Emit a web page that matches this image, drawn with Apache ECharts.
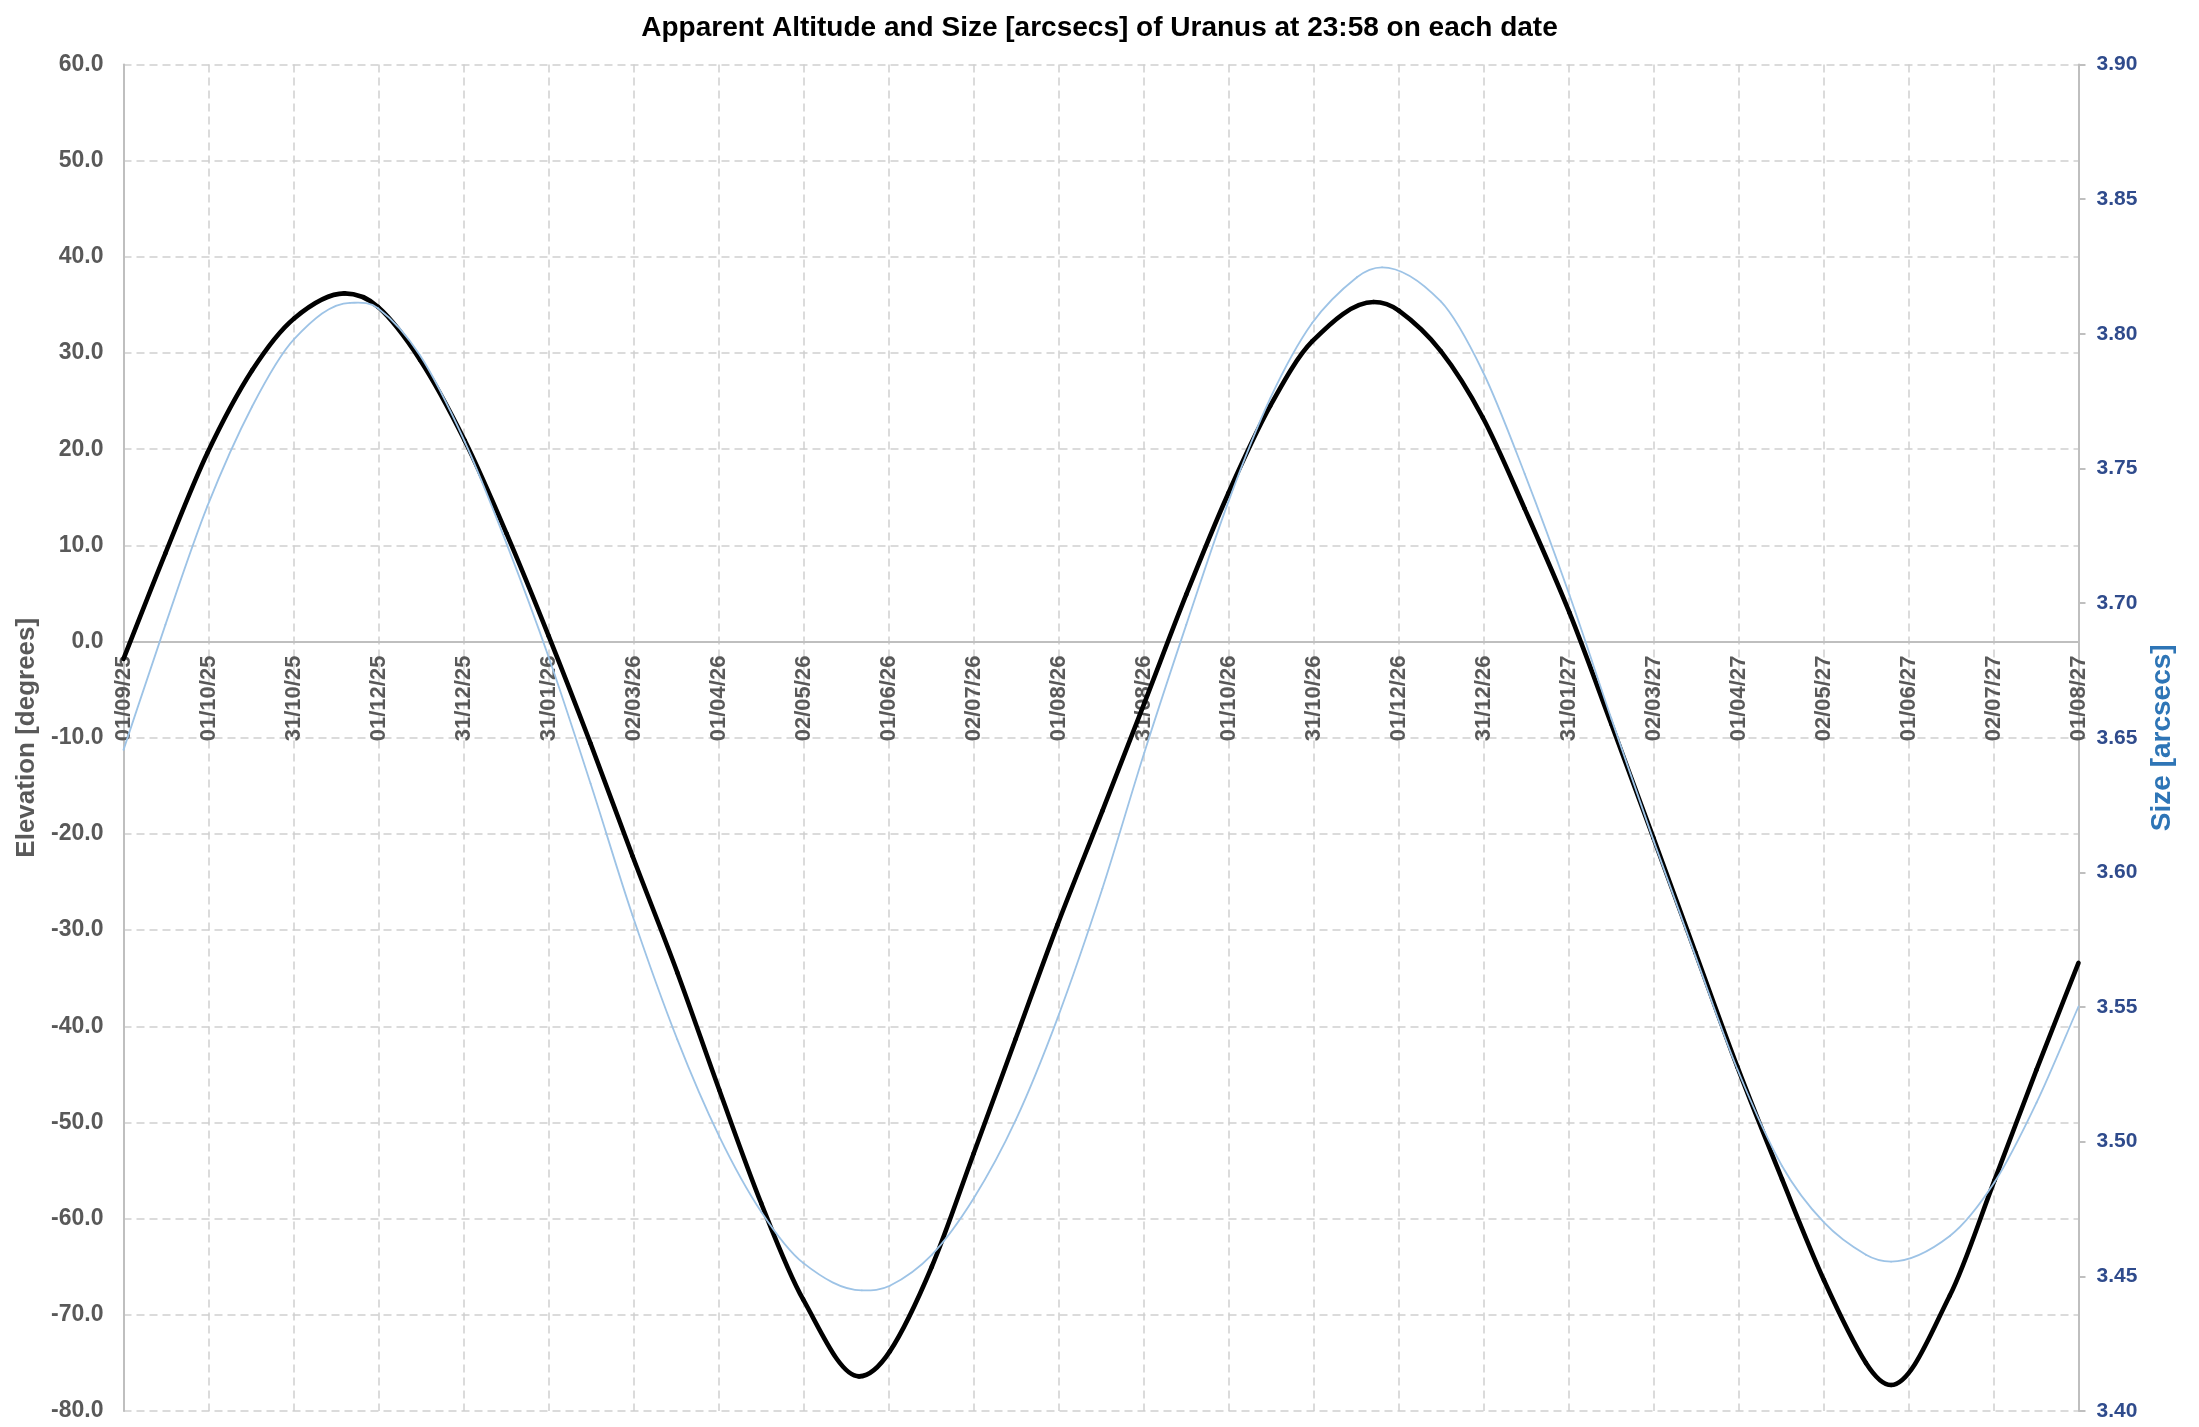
<!DOCTYPE html>
<html>
<head>
<meta charset="utf-8">
<script src="https://cdn.jsdelivr.net/npm/echarts@6/dist/echarts.min.js"></script>
<style>html,body{margin:0;padding:0;background:#fff;}#c{width:2199px;height:1427px;}</style>
</head>
<body>
<div id="c"></div>
<script>
// Days since 01/09/25 at which the altitude was read
const altDays = [0,15,30,46,61,79,91,106,122,137,152,167,182,198,213,228,243,263,274,289,304,319,334,350,365,380,395,410,425,447,456,471,486,501,517,532,547,562,577,593,608,623,632,653,669,684,699];
// Elevation [degrees]
const altitude = [-1.8,9.2,19.6,28.2,33.6,36.2,34.8,29.3,20.9,11.2,0.6,-10.6,-22.3,-34.4,-46.6,-58.4,-68.4,-76.4,-73.8,-65.0,-53.2,-41.3,-29.4,-17.6,-6.4,4.9,15.4,24.5,31.2,35.3,34.4,30.2,23.3,13.8,3.0,-8.6,-20.4,-32.3,-44.2,-55.9,-66.4,-75.0,-77.3,-68.0,-56.0,-44.5,-33.4];
// Days since 01/09/25 at which the size was read
const sizeDays = [0,15,30,46,61,81,91,106,122,137,152,167,182,198,213,228,243,264,274,289,304,319,334,350,365,380,395,410,425,441,450,471,486,501,517,532,547,562,577,593,608,623,632,653,669,684,699];
// Size [arcsecs]
const size = [3.6455,3.692,3.736,3.773,3.798,3.8115,3.8095,3.792,3.760,3.722,3.680,3.633,3.584,3.538,3.502,3.474,3.455,3.4448,3.4465,3.458,3.479,3.508,3.546,3.594,3.6445,3.692,3.7375,3.776,3.804,3.821,3.8247,3.812,3.786,3.748,3.703,3.657,3.612,3.569,3.527,3.491,3.470,3.458,3.4555,3.465,3.485,3.5145,3.5502];
const tickLabels = ['01/09/25','01/10/25','31/10/25','01/12/25','31/12/25','31/01/26','02/03/26','01/04/26','02/05/26','01/06/26','02/07/26','01/08/26','31/08/26','01/10/26','31/10/26','01/12/26','31/12/26','31/01/27','02/03/27','01/04/27','02/05/27','01/06/27','02/07/27','01/08/27'];
const totalDays = 699;
const step = totalDays / (tickLabels.length - 1);

const FF = "'Liberation Sans', Arial, sans-serif";
const GRID_TOP = 64.5, GRID_BOTTOM = 16, H = 1427;
const plotH = H - GRID_TOP - GRID_BOTTOM;
const yMin = -80, yMax = 60;
const zeroOffset = -plotH * (0 - yMin) / (yMax - yMin);

// Smooth line drawn as a cubic Hermite spline through the data points (mapped with api.coord)
function splineSeries(name, xs, ys, yAxisIndex, color, width, z) {
  return {
    name: name, type: 'custom', yAxisIndex: yAxisIndex, z: z, silent: true,
    data: xs.map((x, i) => [x, ys[i]]),
    encode: { x: 0, y: 1 },
    renderItem: function (params, api) {
      if (params.dataIndex !== 0) return null;
      const p = xs.map((x, i) => api.coord([x, ys[i]]));
      const n = p.length, m = [];
      for (let i = 0; i < n; i++) {
        if (i > 0 && i < n - 1 && (p[i][1] - p[i - 1][1]) * (p[i + 1][1] - p[i][1]) <= 0) {
          m.push(0); // local extremum: flat tangent
          continue;
        }
        const a = p[Math.max(0, i - 1)], b = p[Math.min(n - 1, i + 1)];
        m.push((b[1] - a[1]) / (b[0] - a[0]));
      }
      const children = [];
      for (let i = 0; i < n - 1; i++) {
        const dx = (p[i + 1][0] - p[i][0]) / 3;
        children.push({
          type: 'bezierCurve',
          shape: {
            x1: p[i][0], y1: p[i][1],
            cpx1: p[i][0] + dx, cpy1: p[i][1] + m[i] * dx,
            cpx2: p[i + 1][0] - dx, cpy2: p[i + 1][1] - m[i + 1] * dx,
            x2: p[i + 1][0], y2: p[i + 1][1]
          },
          style: { stroke: color, lineWidth: width, fill: null, lineCap: 'round', lineJoin: 'round' }
        });
      }
      return { type: 'group', children: children };
    }
  };
}

const chart = echarts.init(document.getElementById('c'));
chart.setOption({
  animation: false,
  backgroundColor: '#ffffff',
  title: {
    text: 'Apparent Altitude and Size [arcsecs] of Uranus at 23:58 on each date',
    left: 'center', top: 9,
    textStyle: { fontFamily: FF, fontSize: 28, fontWeight: 'bold', color: '#000000' }
  },
  grid: { left: 123.5, right: 120.5, top: GRID_TOP, bottom: GRID_BOTTOM, containLabel: false, outerBoundsMode: 'none' },
  xAxis: {
    type: 'value', min: 0, max: totalDays, interval: step, position: 'bottom', offset: zeroOffset,
    axisLine: { show: true, onZero: false, lineStyle: { color: '#BFBFBF', width: 2 } },
    axisTick: { show: false },
    axisLabel: {
      rotate: 90, margin: 14, showMinLabel: true, showMaxLabel: true, hideOverlap: false,
      fontFamily: FF, fontSize: 22, fontWeight: 'bold', color: '#595959',
      formatter: v => tickLabels[Math.round(v / step)] || ''
    },
    splitLine: { show: true, lineStyle: { color: '#D0D0D0', width: 1.5, type: [8, 5] } }
  },
  yAxis: [
    {
      type: 'value', min: yMin, max: yMax, interval: 10, position: 'left',
      name: 'Elevation [degrees]', nameLocation: 'middle', nameGap: 80, nameRotate: 90,
      nameTextStyle: { fontFamily: FF, fontSize: 26, fontWeight: 'bold', color: '#595959' },
      axisLine: { show: true, onZero: false, lineStyle: { color: '#BFBFBF', width: 2 } },
      axisTick: { show: false },
      axisLabel: { margin: 20, fontFamily: FF, fontSize: 23, fontWeight: 'bold', color: '#595959', formatter: v => v.toFixed(1) },
      splitLine: { show: true, lineStyle: { color: '#D0D0D0', width: 1.5, type: [8, 5] } }
    },
    {
      type: 'value', min: 3.40, max: 3.90, interval: 0.05, position: 'right',
      name: 'Size [arcsecs]', nameLocation: 'middle', nameGap: 70, nameRotate: 90,
      nameTextStyle: { fontFamily: FF, fontSize: 28, fontWeight: 'bold', color: '#2E75B6' },
      axisLine: { show: true, onZero: false, lineStyle: { color: '#BFBFBF', width: 2 } },
      axisTick: { show: true, length: 7, lineStyle: { color: '#BFBFBF', width: 2 } },
      axisLabel: { margin: 18, fontFamily: FF, fontSize: 21, fontWeight: 'bold', color: '#2F4B8C', formatter: v => v.toFixed(2) },
      splitLine: { show: false }
    }
  ],
  series: [
    splineSeries('Altitude', altDays, altitude, 0, '#000000', 4.6, 2),
    splineSeries('Size', sizeDays, size, 1, '#9DC3E6', 1.8, 3)
  ]
});
</script>
</body>
</html>
